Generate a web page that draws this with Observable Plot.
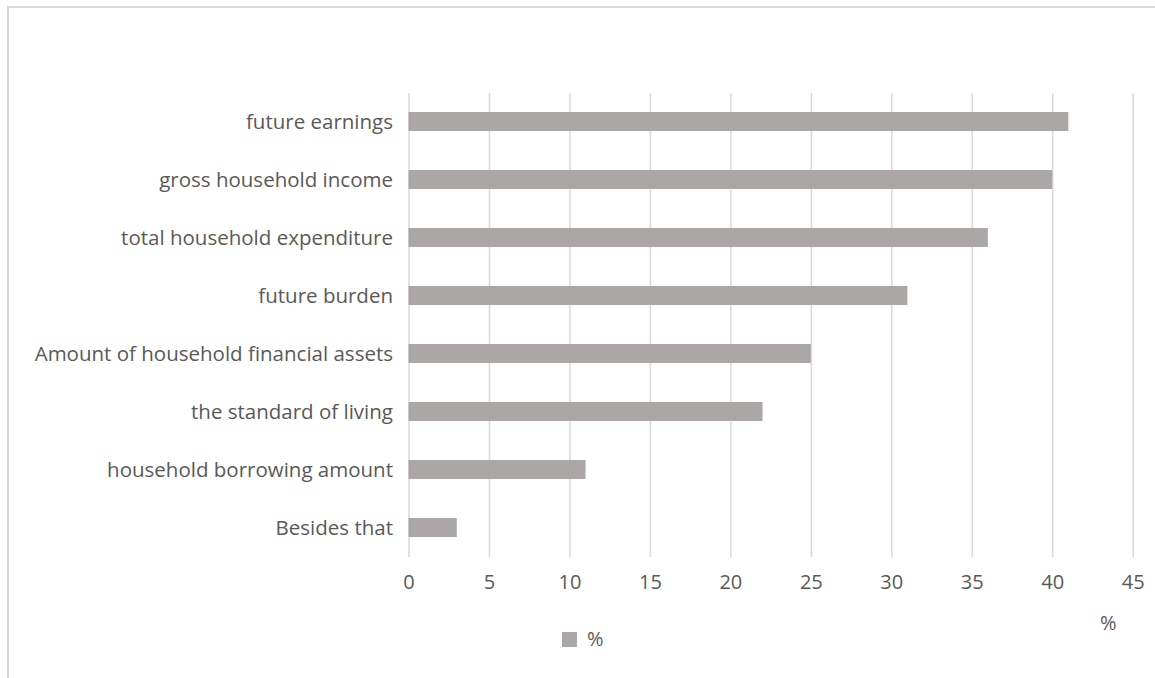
<!DOCTYPE html>
<html>
<head>
<meta charset="utf-8">
<script src="https://cdn.jsdelivr.net/npm/d3@7"></script>
<script src="https://cdn.jsdelivr.net/npm/@observablehq/plot@0.6"></script>
<style>
  html, body { margin: 0; padding: 0; background: #fff; }
  body { width: 1155px; height: 678px; position: relative; overflow: hidden; font-family: "Open Sans", sans-serif; }
  #frame { position: absolute; left: 7px; top: 6px; width: 1200px; height: 700px; border-left: 2px solid #d9d9d9; border-top: 2px solid #d9d9d9; box-sizing: border-box; }
  #chart { position: absolute; left: 0; top: 0; }
  .lbl { position: absolute; color: #595959; font-size: 20px; line-height: 20px; white-space: nowrap; }
  #legend { left: 562px; top: 629px; display: flex; align-items: center; gap: 10px; }
  #legend .sw { width: 15px; height: 15px; background: #aba7a7; display: inline-block; }
  #xlabel { left: 1100px; top: 613px; }
</style>
</head>
<body>
<div id="frame"></div>
<div id="chart"></div>
<div id="legend" class="lbl"><span class="sw"></span><span>%</span></div>
<div id="xlabel" class="lbl">%</div>
<script>
const categories = [
  "future earnings",
  "gross household income",
  "total household expenditure",
  "future burden",
  "Amount of household financial assets",
  "the standard of living",
  "household borrowing amount",
  "Besides that"
];
const values = [41, 40, 36, 31, 25, 22, 11, 3];
const xTicks = [0, 5, 10, 15, 20, 25, 30, 35, 40, 45];

const data = categories.map((c, i) => ({category: c, value: values[i]}));

const chart = Plot.plot({
  width: 1155,
  height: 678,
  marginLeft: 408.5,
  marginRight: 22.3,
  marginTop: 93,
  marginBottom: 121,
  style: {fontFamily: "Open Sans, sans-serif", fontSize: "20px", color: "#595959", background: "transparent"},
  x: {domain: [0, 45], ticks: xTicks, label: null},
  y: {domain: categories, paddingInner: 0.664, paddingOuter: 0.332, label: null},
  marks: [
    Plot.gridX(xTicks, {stroke: "#d9d9d9", strokeOpacity: 1, strokeWidth: 1.5}),
    Plot.barX(data, {x: "value", y: "category", fill: "#aba7a7"}),
    Plot.axisX(xTicks, {tickSize: 0, tickPadding: 17, fill: "#595959", fontSize: 20}),
    Plot.axisY({tickSize: 0, tickPadding: 16, fill: "#595959", fontSize: 20.5})
  ]
});
document.getElementById("chart").appendChild(chart);
</script>
</body>
</html>
